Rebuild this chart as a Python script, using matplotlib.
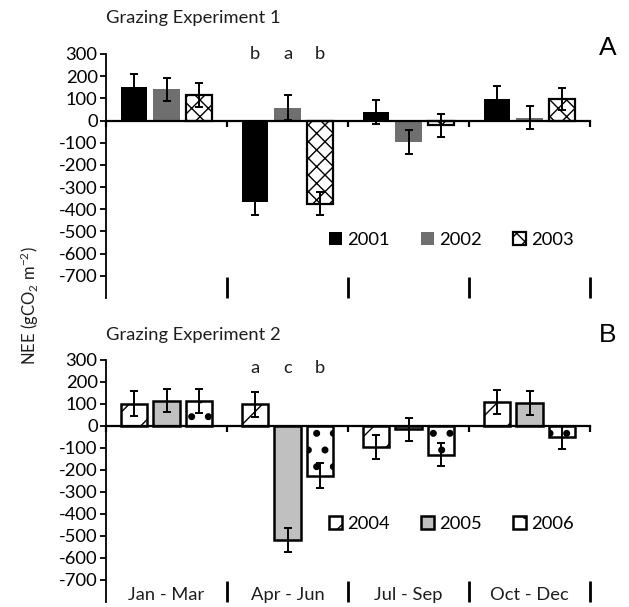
import matplotlib
import matplotlib.pyplot as plt
import numpy as np

plt.switch_backend("agg")
plt.rcParams["font.family"] = ["Lato", "DejaVu Sans"]
plt.rcParams["mathtext.default"] = "regular"
plt.rcParams["hatch.linewidth"] = 1.0

SEASONS = ["Jan - Mar", "Apr - Jun", "Jul - Sep", "Oct - Dec"]
Y_TICKS = [300, 200, 100, 0, -100, -200, -300, -400, -500, -600, -700]

# Grazing Experiment 1
YEARS_1 = ["2001", "2002", "2003"]
NEE_2001 = [152, -368, 38, 98]
ERR_2001 = [57, 56, 54, 58]
NEE_2002 = [141, 58, -97, 13]
ERR_2002 = [53, 56, 54, 53]
NEE_2003 = [115, -375, -22, 98]
ERR_2003 = [55, 53, 53, 50]
LETTERS_1 = ["b", "a", "b"]

# Grazing Experiment 2
YEARS_2 = ["2004", "2005", "2006"]
NEE_2004 = [102, 98, -97, 109]
ERR_2004 = [55, 55, 55, 53]
NEE_2005 = [115, -518, -15, 105]
ERR_2005 = [53, 55, 52, 55]
NEE_2006 = [112, -225, -130, -52]
ERR_2006 = [54, 55, 53, 53]
LETTERS_2 = ["a", "c", "b"]

TEXT = "#1e1e1e"
FS = 13.2
OFFSET = 0.27
WIDTH = 0.215


def style_axis(ax):
    x = np.arange(len(SEASONS))
    ax.set_xlim(-0.5, len(SEASONS) - 0.5)
    ax.set_ylim(-800, 300)
    ax.spines["top"].set_visible(False)
    ax.spines["right"].set_visible(False)
    ax.spines["bottom"].set_position(("data", 0))
    ax.spines["bottom"].set_linewidth(1.6)
    ax.spines["left"].set_linewidth(1.3)
    ax.set_yticks(Y_TICKS)
    ax.set_yticklabels([str(v) for v in Y_TICKS], fontsize=FS, color="black")
    ax.tick_params(axis="y", direction="out", length=4, width=1.3, pad=2)
    bounds = np.append(x - 0.5, x[-1] + 0.5)
    ax.set_xticks(bounds)
    ax.set_xticklabels([])
    ax.tick_params(axis="x", direction="out", length=4, width=1.6)
    ax.vlines(bounds[1:], -800, -705, color="black", linewidth=2.0, clip_on=False)


def draw_panel(ax, series, errors, styles, years, letters, letter_y, leg_anchor):
    x = np.arange(len(SEASONS))
    for k, (vals, errs, st, yr) in enumerate(zip(series, errors, styles, years)):
        xpos = x + (k - 1) * OFFSET
        st = dict(st)
        hlw = st.pop("hlw", 1.0)
        with plt.rc_context({"hatch.linewidth": hlw}):
            ax.bar(xpos, vals, WIDTH, label=yr, zorder=2, **st)
        ax.errorbar(xpos, vals, yerr=errs, fmt="none", ecolor="black",
                    elinewidth=1.4, capsize=2.6, capthick=1.4, zorder=3)
    for k, letter in enumerate(letters):
        ax.text(1 + (k - 1) * OFFSET, letter_y, letter, ha="center", va="center",
                fontsize=FS, color=TEXT)
    style_axis(ax)
    ax.legend(loc="center left", bbox_to_anchor=leg_anchor, ncol=3, frameon=False,
              fontsize=FS, handlelength=0.7, handleheight=0.7,
              handletextpad=0.3, columnspacing=1.7, borderaxespad=0)


fig = plt.figure(figsize=(6.29, 6.07), dpi=100)
ax_a = fig.add_axes([106 / 629, 1 - 298 / 607, 484 / 629, 244 / 607])
ax_b = fig.add_axes([106 / 629, 1 - 602 / 607, 484 / 629, 242 / 607])

styles_1 = [
    dict(color="black", linewidth=0),
    dict(color="#6f6f6f", linewidth=0),
    dict(facecolor="white", edgecolor="black", linewidth=1.6, hatch="xx"),
]
draw_panel(ax_a, [NEE_2001, NEE_2002, NEE_2003], [ERR_2001, ERR_2002, ERR_2003],
           styles_1, YEARS_1, LETTERS_1, 300, (0.445, 0.238))

styles_2 = [
    dict(facecolor="white", edgecolor="black", linewidth=1.8, hatch="/"),
    dict(facecolor="#c0c0c0", edgecolor="black", linewidth=1.8),
    dict(facecolor="white", edgecolor="black", linewidth=1.8, hatch=".", hlw=2.6),
]
draw_panel(ax_b, [NEE_2004, NEE_2005, NEE_2006], [ERR_2004, ERR_2005, ERR_2006],
           styles_2, YEARS_2, LETTERS_2, 265, (0.445, 0.322))

for i, name in enumerate(SEASONS):
    ax_b.text(i, -770, name, ha="center", va="center", fontsize=FS, color=TEXT)

fig.text(106 / 629, 1 - 18 / 607, "Grazing Experiment 1", ha="left", va="center",
         fontsize=FS, color=TEXT)
fig.text(106 / 629, 1 - 335 / 607, "Grazing Experiment 2", ha="left", va="center",
         fontsize=FS, color=TEXT)
fig.text(608 / 629, 1 - 48 / 607, "A", ha="center", va="center", fontsize=19,
         family="Liberation Sans", color="black")
fig.text(608 / 629, 1 - 335 / 607, "B", ha="center", va="center", fontsize=19,
         family="Liberation Sans", color="black")
fig.text(30 / 629, 1 - 306 / 607, "NEE (gCO$_2$ m$^{-2}$)", rotation=90,
         ha="center", va="center", fontsize=12, color=TEXT)

fig.savefig("out.png", dpi=100)
